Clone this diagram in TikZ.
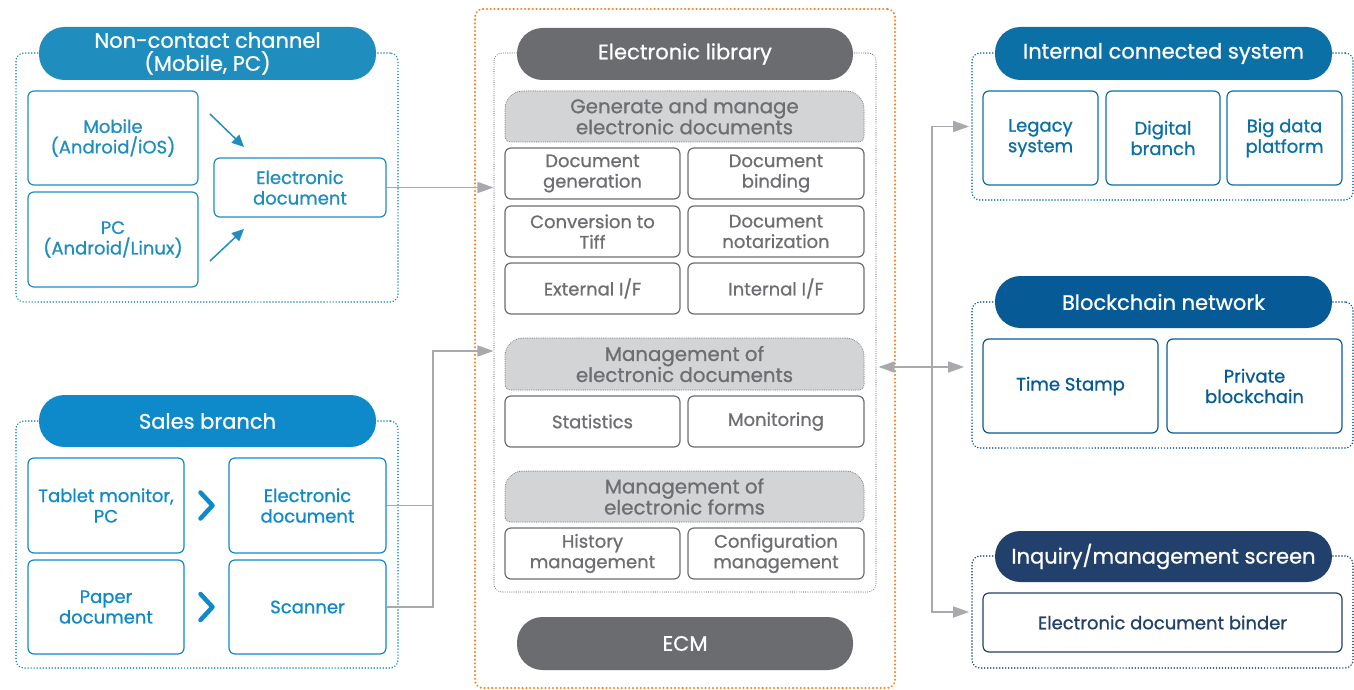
\documentclass[tikz,border=0pt]{standalone}
\usepackage{fontspec}
\setmainfont{Poppins}[FakeBold=0.8]
\usetikzlibrary{arrows.meta,calc}
\definecolor{ncblue}{HTML}{1F8EBE}
\definecolor{sbblue}{HTML}{0E8ACB}
\definecolor{icblue}{HTML}{0B70A6}
\definecolor{bcblue}{HTML}{065B97}
\definecolor{iqnavy}{HTML}{21406B}
\definecolor{dkgrey}{HTML}{6B6C70}
\definecolor{txgrey}{HTML}{6D6E71}
\definecolor{ltgrey}{HTML}{D3D4D6}
\definecolor{orng}{HTML}{F5821F}
\definecolor{cngrey}{HTML}{A8A9AD}
\newcommand\hdrfont{\fontsize{21}{23}\selectfont}
\newcommand\bodyfont{\fontsize{18}{20.5}\selectfont}
\newcommand\ghfont{\fontsize{19.8}{21}\selectfont}
\begin{document}
\begin{tikzpicture}[x=1pt,y=-1pt,
  grp/.style={draw, line width=1.7pt, dash pattern=on 0.01pt off 3pt, line cap=round, rounded corners=8pt, inner sep=0pt},
  pill/.style={fill, rounded corners=25.5pt, text=white, align=center, font=\hdrfont, inner sep=0pt},
  bx/.style={draw, line width=1.2pt, rounded corners=6pt, fill=white, align=center, font=\bodyfont, inner sep=0pt},
  gbx/.style={bx, draw=txgrey, text=txgrey},
  ghdr/.style={fill=ltgrey, draw=txgrey, line width=1pt, dash pattern=on 0.01pt off 1.8pt, line cap=round},
  gtxt/.style={align=center, font=\ghfont, text=txgrey, inner sep=0pt},
  conn/.style={draw=cngrey, line width=1.5pt, -{Triangle[length=16pt,width=11pt]}},
  cline/.style={draw=cngrey, line width=1.5pt},
  barr/.style={draw=ncblue, line width=1.5pt, -{Triangle[length=12pt,width=11pt]}},
  chev/.style={draw=sbblue, line width=4.5pt, line cap=round, line join=round}
]
\useasboundingbox (0,0) rectangle (1354,690);

% ---------- Non-contact channel ----------
\node[grp, draw=ncblue, minimum width=382pt, minimum height=249pt] (ncg) at (207,177.5) {};
\node[pill, fill=ncblue, minimum width=337pt, minimum height=53pt] (nch) at (207.5,53.5) {Non-contact channel\\(Mobile, PC)};
\node[bx, draw=ncblue, text=ncblue, minimum width=170pt, minimum height=94pt] (mob) at (113,138) {Mobile\\(Android/iOS)};
\node[bx, draw=ncblue, text=ncblue, minimum width=170pt, minimum height=95pt] (pc) at (113,239.5) {PC\\(Android/Linux)};
\node[bx, draw=ncblue, text=ncblue, minimum width=172pt, minimum height=59pt] (ned) at (300,187.5) {Electronic\\document};
\coordinate (a1s) at (210,114); \coordinate (a1e) at (244,147);
\coordinate (a2s) at (210,261); \coordinate (a2e) at (244,229);
\draw[barr] (a1s) -- (a1e);
\draw[barr] (a2s) -- (a2e);

% ---------- Sales branch ----------
\node[grp, draw=sbblue, minimum width=382pt, minimum height=247pt] (sbg) at (207,544.5) {};
\node[pill, fill=sbblue, minimum width=337pt, minimum height=52pt] (sbh) at (207.5,421) {Sales branch};
\node[bx, draw=sbblue, text=sbblue, minimum width=156pt, minimum height=95pt] (tab) at (106,505.5) {Tablet monitor,\\PC};
\node[bx, draw=sbblue, text=sbblue, minimum width=156pt, minimum height=94pt] (pap) at (106,607) {Paper\\document};
\node[bx, draw=sbblue, text=sbblue, minimum width=157pt, minimum height=95pt] (sed) at (307.5,505.5) {Electronic\\document};
\node[bx, draw=sbblue, text=sbblue, minimum width=157pt, minimum height=94pt] (scn) at (307.5,607) {Scanner};
\coordinate (c1) at ($(tab.east)!0.5!(sed.west)$);
\coordinate (c2) at ($(pap.east)!0.5!(scn.west)$);
\draw[chev] ($(c1)+(-6,-13)$) -- ($(c1)+(6,0)$) -- ($(c1)+(-6,13)$);
\draw[chev] ($(c2)+(-6,-13)$) -- ($(c2)+(6,0)$) -- ($(c2)+(-6,13)$);

% ---------- Middle ----------
\node[grp, draw=orng, line width=2.3pt, dash pattern=on 0.01pt off 3.8pt, minimum width=420pt, minimum height=679pt] (ecmg) at (685,348.5) {};
\node[draw=txgrey, line width=1.1pt, dash pattern=on 0.01pt off 2.2pt, line cap=round, rounded corners=8pt, inner sep=0pt, minimum width=382pt, minimum height=539pt] (lib) at (685,322.5) {};
\node[pill, fill=dkgrey, minimum width=336pt, minimum height=52pt] (elh) at (685,54) {Electronic library};

\path[ghdr] (505,137) -- (505,109) arc(180:90:18pt) -- (846,91) arc(90:0:18pt) -- (864,137) arc(0:-90:5pt) -- (510,142) arc(270:180:5pt) -- cycle;
\node[gtxt] (gh1) at (684.5,116.5) {Generate and manage\\electronic documents};
\node[gbx, minimum width=175pt, minimum height=51pt] (dgen) at (592.5,173.5) {Document\\generation};
\node[gbx, minimum width=176pt, minimum height=51pt] (dbind) at (776,173.5) {Document\\binding};
\node[gbx, minimum width=175pt, minimum height=51pt] (conv) at (592.5,231.5) {Conversion to\\Tiff};
\node[gbx, minimum width=176pt, minimum height=51pt] (dnot) at (776,231.5) {Document\\notarization};
\node[gbx, minimum width=175pt, minimum height=51pt] (ext) at (592.5,288.5) {External I/F};
\node[gbx, minimum width=176pt, minimum height=51pt] (int) at (776,288.5) {Internal I/F};

\path[ghdr] (505,385) -- (505,356) arc(180:90:18pt) -- (846,338) arc(90:0:18pt) -- (864,385) arc(0:-90:5pt) -- (510,390) arc(270:180:5pt) -- cycle;
\node[gtxt] (gh2) at (684.5,364) {Management of\\electronic documents};
\node[gbx, minimum width=175pt, minimum height=51pt] (stat) at (592.5,421.5) {Statistics};
\node[gbx, minimum width=176pt, minimum height=51pt] (mon) at (776,421.5) {Monitoring};

\path[ghdr] (505,517) -- (505,489) arc(180:90:18pt) -- (846,471) arc(90:0:18pt) -- (864,517) arc(0:-90:5pt) -- (510,522) arc(270:180:5pt) -- cycle;
\node[gtxt] (gh3) at (684.5,496.5) {Management of\\electronic forms};
\node[gbx, minimum width=175pt, minimum height=51pt] (hist) at (592.5,553.5) {History\\management};
\node[gbx, minimum width=176pt, minimum height=51pt] (conf) at (776,553.5) {Configuration\\management};

\node[pill, fill=dkgrey, minimum width=336pt, minimum height=53pt] (ecm) at (685,643.5) {ECM};

% ---------- Right side ----------
\node[grp, draw=icblue, minimum width=381pt, minimum height=147pt] (icg) at (1162.5,126.5) {};
\node[pill, fill=icblue, minimum width=337pt, minimum height=53pt] (ich) at (1163.5,53.5) {Internal connected system};
\node[bx, draw=icblue, text=icblue, minimum width=115pt, minimum height=94pt] (leg) at (1040.5,138) {Legacy\\system};
\node[bx, draw=icblue, text=icblue, minimum width=114pt, minimum height=94pt] (dig) at (1163,138) {Digital\\branch};
\node[bx, draw=icblue, text=icblue, minimum width=115pt, minimum height=94pt] (big) at (1284.5,138) {Big data\\platform};

\node[grp, draw=bcblue, minimum width=381pt, minimum height=146pt] (bcg) at (1162.5,375) {};
\node[pill, fill=bcblue, minimum width=337pt, minimum height=52pt] (bch) at (1163.5,302) {Blockchain network};
\node[bx, draw=bcblue, text=bcblue, minimum width=175pt, minimum height=94pt] (tsp) at (1070.5,386) {Time Stamp};
\node[bx, draw=bcblue, text=bcblue, minimum width=175pt, minimum height=94pt] (pvb) at (1254.5,386) {Private\\blockchain};

\node[grp, draw=iqnavy, minimum width=381pt, minimum height=112pt] (iqg) at (1162.5,612) {};
\node[pill, fill=iqnavy, minimum width=337pt, minimum height=51pt] (iqh) at (1163.5,556.5) {Inquiry/management screen};
\node[bx, draw=iqnavy, text=iqnavy, minimum width=359pt, minimum height=59pt] (bnd) at (1162.5,622.5) {Electronic document binder};

% ---------- Connectors ----------
\draw[conn] (ned.east) -- (ned.east -| lib.west);
\coordinate (jn) at (433,351);
\draw[cline] (sed.east) -| (jn);
\draw[conn] (scn.east) -| (jn) -- (jn -| lib.west);
\coordinate (bj) at (932,367);
\draw[conn, shorten >=2pt] (bj) |- (icg.west);
\draw[conn, shorten >=2pt] (bj) |- (iqg.west);
\draw[cline, {Triangle[length=16pt,width=11pt]}-{Triangle[length=16pt,width=11pt]}, shorten <=2pt, shorten >=7pt] (bj -| lib.east) -- (bj -| bcg.west);
\end{tikzpicture}
\end{document}
